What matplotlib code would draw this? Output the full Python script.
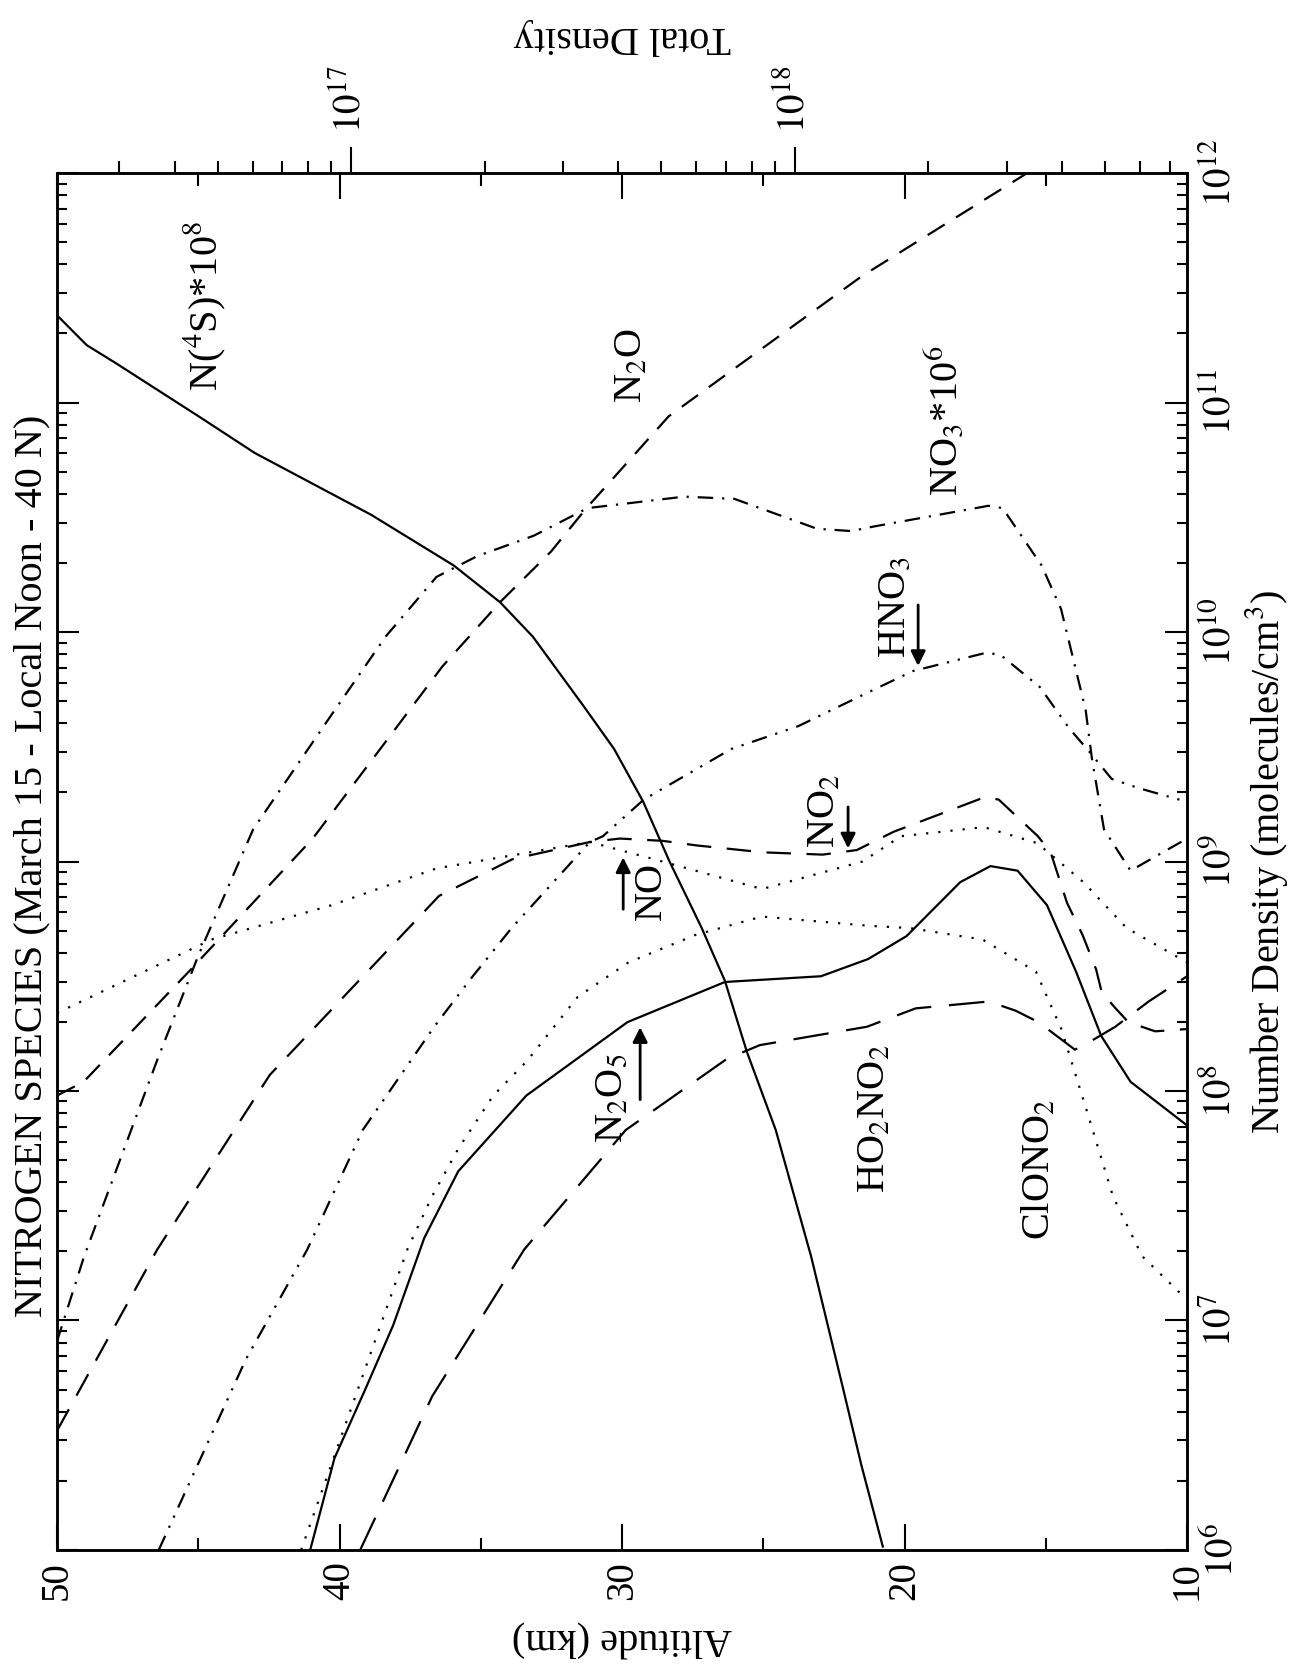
import numpy as np
import matplotlib.pyplot as plt
from matplotlib.ticker import FixedLocator, NullFormatter

plt.rcParams['font.family'] = ['Liberation Serif', 'DejaVu Serif']
plt.rcParams['mathtext.fontset'] = 'stix'

# altitude (km) and log10 number density (molecules/cm^3)
n4s_alt = [50.0, 48.95, 47.9, 44.99, 43.0, 38.87, 35.96, 34.32, 33.16, 31.32, 30.28,
           29.25, 28.32, 27.18, 26.36, 25.58, 24.56, 23.31, 22.17, 21.53, 20.76]
n4s_log = [11.38, 11.25, 11.17, 10.94, 10.78, 10.51, 10.29, 10.13, 9.98, 9.67, 9.49,
           9.26, 9.00, 8.71, 8.48, 8.17, 7.83, 7.28, 6.70, 6.37, 6.01]

n2o_alt = [50.0, 49.06, 45.26, 40.95, 36.36, 34.32, 32.52, 31.26, 28.35, 21.52, 15.66]
n2o_log = [7.98, 8.04, 8.53, 9.10, 9.85, 10.13, 10.35, 10.54, 10.94, 11.55, 12.0]

no3_alt = [50.0, 49.04, 46.47, 45.0, 43.06, 40.17, 38.37, 36.57, 35.14, 33.12, 31.22,
           27.79, 26.02, 23.1, 21.9, 21.08, 17.03, 16.53, 15.15, 14.46, 13.59, 13.37,
           12.94, 12.0, 10.0]
no3_log = [6.91, 7.28, 8.13, 8.59, 9.14, 9.66, 9.98, 10.24, 10.33, 10.42, 10.54,
           10.59, 10.58, 10.45, 10.44, 10.46, 10.55, 10.54, 10.29, 10.10, 9.66, 9.45,
           9.14, 8.96, 9.10]

hno3_alt = [46.4, 43.32, 41.14, 39.18, 36.65, 35.35, 33.91, 31.14, 30.68, 29.23, 26.14,
            23.76, 21.07, 19.7, 17.1, 16.6, 15.21, 14.17, 13.47, 12.67, 11.72, 10.0]
hno3_log = [6.0, 6.83, 7.31, 7.83, 8.28, 8.49, 8.71, 9.085, 9.11, 9.27, 9.49,
            9.59, 9.75, 9.83, 9.91, 9.90, 9.76, 9.58, 9.48, 9.36, 9.32, 9.26]

no2_alt = [50.0, 46.45, 42.47, 36.48, 33.88, 31.14, 30.08, 28.56, 27.36, 25.02, 22.9,
           21.69, 20.38, 17.17, 16.67, 15.28, 14.83, 14.25, 13.7, 13.22, 13.02, 12.53,
           12.08, 11.13, 10.0]
no2_log = [6.52, 7.31, 8.07, 8.85, 9.01, 9.085, 9.10, 9.09, 9.07, 9.04, 9.03,
           9.05, 9.13, 9.28, 9.27, 9.11, 9.04, 8.82, 8.68, 8.53, 8.43, 8.36,
           8.30, 8.26, 8.27]

no_alt = [50.0, 44.53, 40.27, 36.57, 31.14, 28.57, 25.04, 21.49, 20.13, 17.19, 15.3,
          13.67, 12.14, 10.0]
no_log = [8.34, 8.66, 8.81, 8.97, 9.085, 9.0, 8.88, 9.0, 9.11, 9.15, 9.08,
          8.91, 8.71, 8.56]

clono2_alt = [41.36, 37.6, 36.73, 35.79, 34.56, 33.37, 31.57, 29.78, 27.4, 25.05, 21.27,
              19.82, 17.24, 15.35, 14.45, 13.54, 12.62, 11.59, 10.0]
clono2_log = [6.0, 7.31, 7.54, 7.75, 7.98, 8.13, 8.41, 8.56, 8.68, 8.76, 8.72,
              8.71, 8.66, 8.52, 8.27, 7.91, 7.54, 7.28, 7.09]

n2o5_alt = [41.04, 40.18, 39.09, 38.1, 37.0, 35.8, 33.39, 29.81, 26.36, 22.96, 21.29,
            19.93, 18.03, 16.96, 16.0, 14.96, 13.93, 13.04, 12.0, 10.0]
n2o5_log = [6.0, 6.40, 6.70, 6.98, 7.36, 7.65, 7.98, 8.30, 8.475, 8.50, 8.575,
            8.675, 8.91, 8.98, 8.96, 8.81, 8.52, 8.24, 8.04, 7.85]

ho2no2_alt = [39.27, 36.72, 33.46, 29.87, 26.29, 25.12, 21.33, 19.61, 17.02, 16.07, 15.26,
              13.97, 13.5, 12.54, 11.36, 10.0]
ho2no2_log = [6.0, 6.67, 7.31, 7.83, 8.14, 8.20, 8.28, 8.36, 8.39, 8.35, 8.30,
              8.18, 8.21, 8.28, 8.39, 8.50]

alt_ticks = [50, 40, 30, 20, 10]
alt_minor = [45, 35, 25, 15]
dens_decades = [6, 7, 8, 9, 10, 11, 12]
total_decades = [17, 18]
total_density_range = (10 ** 16.337, 10 ** 18.884)   # total density at 50 km and 10 km

fig = plt.figure(figsize=(12.91, 16.67), dpi=100)
ax = fig.add_axes([0.0442, 0.0702, 0.8753, 0.8260])

lw = 1.6
def curve(alt, logn, ls):
    ax.plot(alt, 10 ** np.array(logn), color='black', lw=lw, linestyle=ls,
            dash_capstyle='butt', solid_capstyle='butt')

curve(n4s_alt, n4s_log, '-')
curve(n2o_alt, n2o_log, (0, (9, 6)))
curve(no3_alt, no3_log, (0, (7, 4, 1, 4)))
curve(hno3_alt, hno3_log, (0, (7, 4, 1, 4, 1, 4)))
curve(no2_alt, no2_log, (0, (11, 7)))
curve(no_alt, no_log, (0, (1, 4.5)))
curve(clono2_alt, clono2_log, (0, (1, 4.5)))
curve(n2o5_alt, n2o5_log, '-')
curve(ho2no2_alt, ho2no2_log, (0, (16, 8)))

ax.set_xlim(50, 10)
ax.set_yscale('log')
ax.set_ylim(1e6, 1e12)

fs = 29
tfs = 28
# top axis: total density
ax2 = ax.twiny()
ax2.set_xscale('log')
ax2.set_xlim(*total_density_range)
top_minor = [m * 10.0 ** e for e in (16, 17, 18) for m in range(2, 10)
             if total_density_range[0] <= m * 10.0 ** e <= total_density_range[1]]
ax2.xaxis.set_major_locator(FixedLocator([10.0 ** e for e in total_decades]))
ax2.xaxis.set_minor_locator(FixedLocator(top_minor))
ax2.xaxis.set_minor_formatter(NullFormatter())
ax2.set_xticklabels(['$10^{%d}$' % e for e in total_decades])
ax2.tick_params(axis='x', which='major', direction='out', length=19, width=1.5,
                labelsize=tfs, labelrotation=90, pad=10)
ax2.tick_params(axis='x', which='minor', direction='out', length=8.5, width=1.5)
ax2.set_xlabel('Total Density', fontsize=fs, rotation=180, labelpad=14)
ax2.xaxis.get_offset_text().set_visible(False)
for s in ax2.spines.values():
    s.set_linewidth(1.8)

ax.xaxis.set_major_locator(FixedLocator(alt_ticks))
ax.xaxis.set_minor_locator(FixedLocator(alt_minor))
ax.set_xticklabels([str(t) for t in alt_ticks])
ax.tick_params(axis='x', which='major', direction='in', length=19, width=1.5,
               top=True, bottom=True, labelsize=tfs, labelrotation=90, pad=8)
ax.tick_params(axis='x', which='minor', direction='in', length=9, width=1.5,
               top=True, bottom=True)

dens_minor = [m * 10.0 ** e for e in dens_decades[:-1] for m in range(2, 10)]
ax.yaxis.set_major_locator(FixedLocator([10.0 ** e for e in dens_decades]))
ax.yaxis.set_minor_locator(FixedLocator(dens_minor))
ax.yaxis.set_minor_formatter(NullFormatter())
ax.set_yticklabels(['$10^{%d}$' % e for e in dens_decades])
ax.tick_params(axis='y', which='major', direction='in', length=16, width=1.5,
               left=True, right=True, labelleft=False, labelright=True,
               labelsize=tfs, labelrotation=90, pad=11)
ax.tick_params(axis='y', which='minor', direction='in', length=7, width=1.5,
               left=True, right=True)
for lab in ax.get_yticklabels():
    lab.set_va('center')
for s in ax.spines.values():
    s.set_linewidth(1.8)
ax.xaxis.get_offset_text().set_visible(False)
ax.yaxis.get_offset_text().set_visible(False)

ax.set_xlabel('Altitude (km)', fontsize=fs, rotation=180, labelpad=14)
ax.yaxis.set_label_position('right')
ax.set_ylabel('Number Density (molecules/cm$^3$)', fontsize=fs, rotation=90, labelpad=2)

fig.text(32 / 1291, 1 - 866 / 1667, 'NITROGEN SPECIES (March 15 - Local Noon - 40 N)',
         rotation=90, ha='center', va='center', fontsize=fs)

# curve labels
labels = [
    (44.76, 11.42, 'N($^4$S)*10$^8$'),
    (29.65, 11.16, 'N$_2$O'),
    (18.57, 10.92, 'NO$_3$*10$^6$'),
    (20.34, 10.11, 'HNO$_3$'),
    (22.81, 9.22, 'NO$_2$'),
    (28.97, 8.87, 'NO'),
    (30.35, 7.97, 'N$_2$O$_5$'),
    (21.04, 7.88, 'HO$_2$NO$_2$'),
    (15.2, 7.66, 'ClONO$_2$'),
]
for a, n, t in labels:
    ax.text(a, 10 ** n, t, rotation=90, ha='center', va='center', fontsize=fs)

arrows = [
    (19.52, 10.13, 9.84),
    (22.0, 9.25, 9.045),
    (29.96, 8.78, 9.03),
    (29.36, 7.95, 8.29),
]
for a, n0, n1 in arrows:
    ax.annotate('', xy=(a, 10 ** n1), xytext=(a, 10 ** n0),
                arrowprops=dict(arrowstyle='-|>', color='black', lw=2, mutation_scale=22))

fig.savefig('out.png', dpi=100)
